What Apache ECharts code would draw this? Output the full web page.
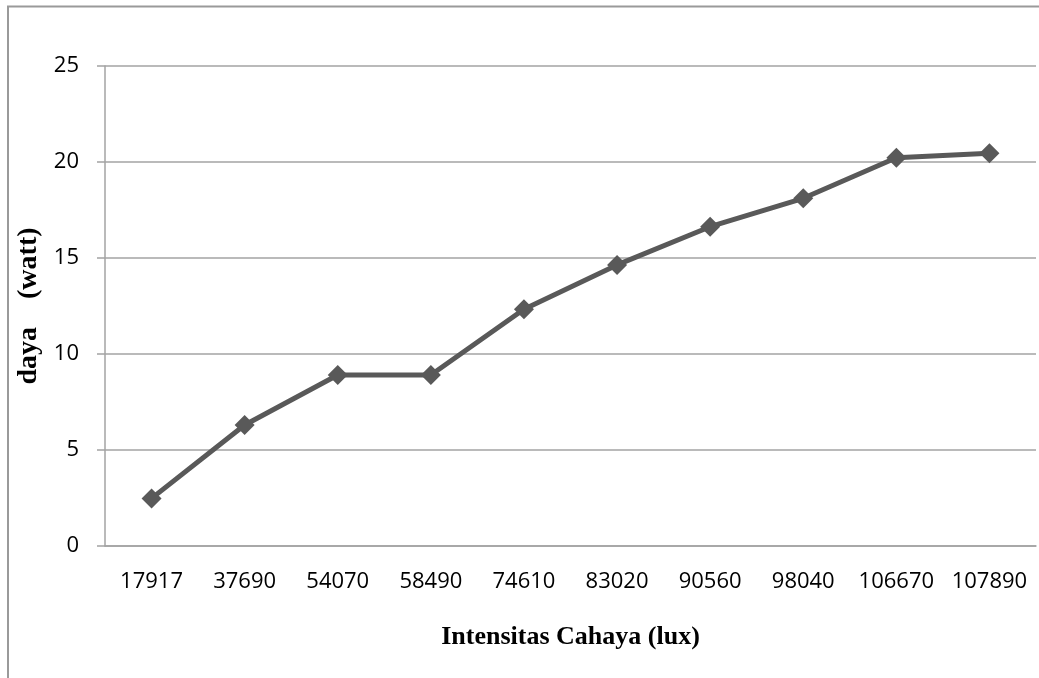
<!DOCTYPE html>
<html>
<head>
<meta charset="utf-8">
<script src="https://cdn.jsdelivr.net/npm/echarts@6/dist/echarts.min.js"></script>
<style>
  html, body { margin: 0; padding: 0; background: #ffffff; }
  #chart { width: 1039px; height: 678px; }
</style>
</head>
<body>
<div id="chart"></div>
<script>
// Light intensity (lux) on the x axis, power (watt) on the y axis
const intensitasLux = ['17917', '37690', '54070', '58490', '74610', '83020', '90560', '98040', '106670', '107890'];
const dayaWatt = [2.48, 6.3, 8.91, 8.91, 12.33, 14.64, 16.63, 18.11, 20.22, 20.45];
const yTicks = { min: 0, max: 25, interval: 5 };

const chart = echarts.init(document.getElementById('chart'), null, { renderer: 'canvas' });

const gridColor = '#a3a3a3';
const lineColor = '#595959';

chart.setOption({
  backgroundColor: '#ffffff',
  animation: false,
  graphic: [
    {
      type: 'rect',
      shape: { x: 8, y: 6.5, width: 1100, height: 800 },
      style: { fill: 'none', stroke: '#9a9a9a', lineWidth: 2 },
      silent: true,
      z: -1
    }
  ],
  grid: { left: 105, right: 3, top: 66, bottom: 132, containLabel: false },
  xAxis: {
    type: 'category',
    data: intensitasLux,
    boundaryGap: true,
    name: 'Intensitas Cahaya (lux)',
    nameLocation: 'middle',
    nameGap: 78,
    nameTextStyle: {
      fontFamily: 'Liberation Serif',
      fontWeight: 'bold',
      fontSize: 26,
      color: '#000000'
    },
    axisLine: { show: true, lineStyle: { color: gridColor, width: 1.5 } },
    axisTick: { show: false },
    axisLabel: {
      fontFamily: 'Open Sans',
      fontSize: 22,
      color: '#000000',
      margin: 25,
      interval: 0
    },
    splitLine: { show: false }
  },
  yAxis: {
    type: 'value',
    min: yTicks.min,
    max: yTicks.max,
    interval: yTicks.interval,
    name: 'daya    (watt)',
    nameLocation: 'middle',
    nameGap: 60,
    nameRotate: 90,
    nameTextStyle: {
      fontFamily: 'Liberation Serif',
      fontWeight: 'bold',
      fontSize: 28,
      color: '#000000'
    },
    axisLine: { show: true, lineStyle: { color: gridColor, width: 1.5 } },
    axisTick: { show: true, length: 8, lineStyle: { color: gridColor, width: 1.5 } },
    axisLabel: {
      fontFamily: 'Open Sans',
      fontSize: 22,
      color: '#000000',
      margin: 26
    },
    splitLine: { show: true, lineStyle: { color: gridColor, width: 1.5 } }
  },
  series: [
    {
      type: 'line',
      data: dayaWatt,
      symbol: 'diamond',
      symbolSize: 20,
      showAllSymbol: true,
      lineStyle: { color: lineColor, width: 5 },
      itemStyle: { color: lineColor },
      z: 3
    }
  ]
});
</script>
</body>
</html>
